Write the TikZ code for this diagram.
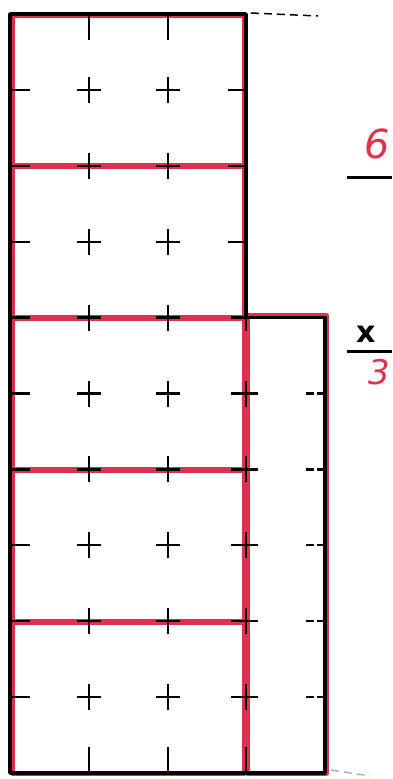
\documentclass[tikz,border=0pt]{standalone}
\usepackage{fontspec}
\setmainfont{DejaVu Sans}
\definecolor{penred}{RGB}{224,48,80}
\tikzset{
  outline/.style={black, line width=3.4pt, line join=round},
  redbox/.style={penred, line width=5pt, line join=round},
  tick/.style={black, line width=2.3pt},
  guide/.style={black, line width=1.5pt, dash pattern=on 8pt off 5pt},
  fracline/.style={black, line width=3pt},
}
\begin{document}
\begin{tikzpicture}[x=1pt,y=-1pt]
\useasboundingbox (0,0) rectangle (392,779);
\clip (0,0) rectangle (392,779);
\fill[white] (0,0) rectangle (392,779);
% grid coordinates
\foreach \i/\xx in {0/10,1/89,2/168,3/246,4/325}{
  \foreach \k in {0,...,10}{
    \coordinate (g\i-\k) at (\xx,{14+75.9*\k});
  }
}
% red rectangles
\foreach \a/\b in {0/2,2/4,4/6,6/8,8/10}{
  \draw[redbox] ([shift={(2.5,1)}]g0-\a) rectangle ([shift={(-2,0)}]g3-\b);
}
\draw[redbox] ([shift={(1.5,-2)}]g3-4) rectangle ([shift={(1.5,0)}]g4-10);
% black outline
\draw[outline] (g0-0) -- (g3-0) -- (g3-4) -- (g4-4) -- (g4-10) -- (g0-10) -- cycle;
% dashed guide lines
\coordinate (topend) at (318,16);
\coordinate (botend) at (370,776);
\draw[guide] ([xshift=5,yshift=1]g3-0) -- (topend);
\draw[guide, black!35, line width=1.3pt] ([xshift=6,yshift=3]g4-10) -- (botend);
% top edge ticks
\foreach \i in {1,2}{ \draw[tick] (g\i-0) -- ++(0,26); }
% bottom edge ticks
\foreach \i in {1,2,3}{ \draw[tick] (g\i-10) -- ++(0,-26); }
% left edge ticks
\foreach \k in {1,...,9}{ \draw[tick] (g0-\k) -- ++(20,0); }
% right edge ticks of upper part
\foreach \k in {1,2,3}{ \draw[tick] (g3-\k) -- ++(-18,0); }
% right edge ticks of lower part
\foreach \k in {5,...,9}{ \draw[tick, dash pattern=on 8pt off 3pt] (g4-\k) -- ++(-20,0); }
% interior crosses
\foreach \k in {1,...,9}{
  \foreach \i in {1,2}{
    \draw[tick] ([xshift=-12]g\i-\k) -- ([xshift=12]g\i-\k);
    \draw[tick] ([yshift=-13]g\i-\k) -- ([yshift=13]g\i-\k);
  }
}
\foreach \k in {4,...,9}{
  \draw[tick] ([xshift=-15]g3-\k) -- ([xshift=12]g3-\k);
  \draw[tick] ([yshift=-13]g3-\k) -- ([yshift=13]g3-\k);
}
% fraction on the right
\coordinate (f1l) at (347,177);
\coordinate (f1r) at (392,177);
\coordinate (f2l) at (347,351);
\coordinate (f2r) at (392,351);
\draw[fracline] (f1l) -- (f1r);
\draw[fracline] (f2l) -- (f2r);
\node[anchor=base west, inner sep=0pt, text=penred, font=\fontsize{40}{40}\selectfont\itshape] (six) at (364,158) {6};
\node[anchor=base west, inner sep=0pt, font=\fontsize{30}{30}\selectfont\bfseries] (ex) at (356,342) {x};
\node[anchor=base west, inner sep=0pt, text=penred, font=\fontsize{34}{34}\selectfont\itshape] (three) at (368,384) {3};
\end{tikzpicture}
\end{document}
